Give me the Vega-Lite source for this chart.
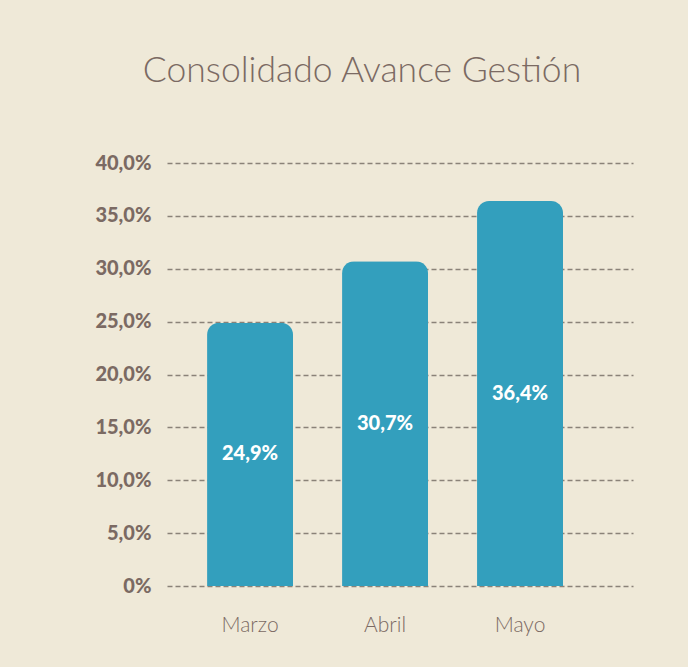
{
  "$schema": "https://vega.github.io/schema/vega-lite/v6.json",
  "width": 466,
  "height": 423,
  "autosize": "none",
  "padding": {"left": 167, "top": 163, "right": 55, "bottom": 81},
  "background": "#efe9d8",
  "config": {
    "view": {"stroke": null},
    "font": "Lato",
    "locale": {"number": {"decimal": ",", "thousands": ".", "grouping": [3], "currency": ["", " €"]}}
  },
  "title": {
    "text": "Consolidado Avance Gestión",
    "fontSize": 35.5,
    "fontWeight": 300,
    "color": "#7b6a63",
    "anchor": "middle",
    "frame": "group",
    "dx": -38,
    "offset": 64
  },
  "data": {
    "values": [
      {"mes": "Marzo", "avance": 0.249},
      {"mes": "Abril", "avance": 0.307},
      {"mes": "Mayo", "avance": 0.364}
    ]
  },
  "layer": [
    {
      "mark": {"type": "bar", "color": "#339fbd", "cornerRadiusTopLeft": 12, "cornerRadiusTopRight": 12},
      "encoding": {
        "x": {
          "field": "mes",
          "type": "nominal",
          "sort": null,
          "scale": {"paddingInner": 0.363, "paddingOuter": 0.4075, "align": 0.364},
          "axis": {
            "title": null,
            "labelAngle": 0,
            "ticks": false,
            "domain": false,
            "labelPadding": 28,
            "labelFontSize": 21,
            "labelColor": "#7b6a63",
            "labelFontWeight": 300
          }
        },
        "y": {
          "field": "avance",
          "type": "quantitative",
          "scale": {"domain": [0, 0.4]},
          "axis": {
            "title": null,
            "values": [0, 0.05, 0.1, 0.15, 0.2, 0.25, 0.3, 0.35, 0.4],
            "format": ".1%",
            "labelExpr": "datum.value === 0 ? '0%' : datum.label",
            "ticks": false,
            "domain": false,
            "labelPadding": 16,
            "labelFontSize": 20,
            "labelFontWeight": 900,
            "labelColor": "#7b6a63",
            "grid": true,
            "gridDash": [5, 3],
            "gridColor": "#8a8278",
            "gridWidth": 1.3,
            "gridOpacity": 1
          }
        }
      }
    },
    {
      "mark": {"type": "text", "color": "white", "fontWeight": 900, "fontSize": 20, "baseline": "middle"},
      "encoding": {
        "x": {"field": "mes", "type": "nominal", "sort": null},
        "y": {"field": "avance", "type": "quantitative", "scale": {"domain": [0, 0.8]}, "axis": null},
        "text": {"field": "avance", "type": "quantitative", "format": ".1%"}
      }
    }
  ],
  "resolve": {"scale": {"y": "independent"}}
}
